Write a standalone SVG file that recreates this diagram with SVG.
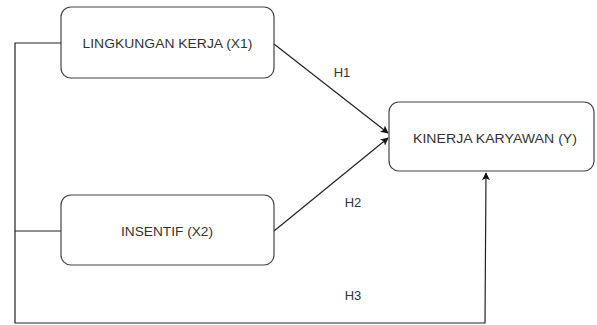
<svg xmlns="http://www.w3.org/2000/svg" width="597" height="325" viewBox="0 0 597 325">
<style>
.box{fill:#fff;stroke:#444;stroke-width:1.2}
.lbl{font-family:"Liberation Sans",Arial,sans-serif;font-size:13.7px;fill:#333;text-anchor:middle}
.h{font-family:"Liberation Sans",Arial,sans-serif;font-size:13px;fill:#333;text-anchor:middle}
.edge{fill:none;stroke:#222;stroke-width:1.2}
</style>
<defs>
<marker id="arr" viewBox="0 0 10 10" refX="9" refY="5" markerWidth="8" markerHeight="8" markerUnits="userSpaceOnUse" orient="auto">
<path d="M0,0 L10,5 L0,10 L2.5,5 Z" fill="#111"/>
</marker>
</defs>
<g id="connectors">
<path class="edge" d="M274,44 L388,133" marker-end="url(#arr)"/>
<path class="edge" d="M274,231 L388,138" marker-end="url(#arr)"/>
<path class="edge" d="M61,43 L15,43 L15,323 L485,323 L486,173" marker-end="url(#arr)"/>
<path class="edge" d="M61,231 L15,231"/>
<text class="h" x="342" y="77">H1</text>
<text class="h" x="353" y="207">H2</text>
<text class="h" x="353" y="300">H3</text>
</g>
<g id="x1">
<rect class="box" x="61" y="7" width="213" height="71" rx="10"/>
<text class="lbl" x="167.5" y="48" textLength="170" lengthAdjust="spacingAndGlyphs">LINGKUNGAN KERJA (X1)</text>
</g>
<g id="x2">
<rect class="box" x="61" y="195" width="213" height="70" rx="10"/>
<text class="lbl" x="167" y="236" textLength="92" lengthAdjust="spacingAndGlyphs">INSENTIF (X2)</text>
</g>
<g id="y">
<rect class="box" x="389" y="102" width="205" height="69" rx="10"/>
<text class="lbl" x="495" y="143" textLength="164" lengthAdjust="spacingAndGlyphs">KINERJA KARYAWAN (Y)</text>
</g>
</svg>
